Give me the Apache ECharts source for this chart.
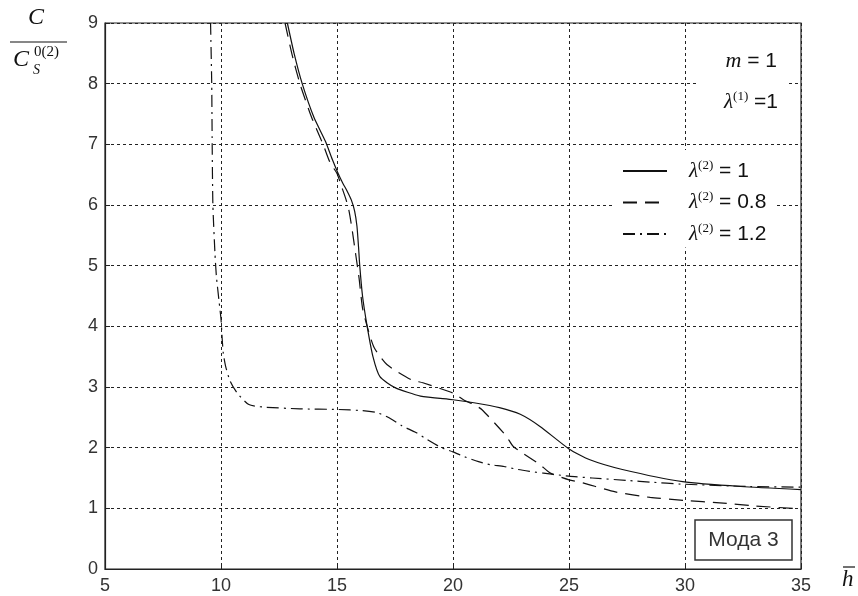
<!DOCTYPE html>
<html>
<head>
<meta charset="utf-8">
<script src="https://cdn.jsdelivr.net/npm/echarts@6/dist/echarts.min.js"></script>
<style>html,body{margin:0;padding:0;background:#fff}#c{width:858px;height:596px}</style>
</head>
<body>
<div id="c"></div>
<script>
// Data
const seriesNames = ['λ(2) = 1', 'λ(2) = 0.8', 'λ(2) = 1.2'];
const legendValues = ['1', '0.8', '1.2'];
const lambda1 = [
  [12.86, 9], [13.15, 8.5], [13.5, 8.0], [14.0, 7.45], [14.5, 7.05], [14.8, 6.75], [15.05, 6.52],
  [15.25, 6.36], [15.45, 6.22], [15.62, 6.08], [15.76, 5.9], [15.86, 5.65], [15.93, 5.3], [15.98, 5.0],
  [16.1, 4.5], [16.3, 4.0], [16.55, 3.5], [16.85, 3.17], [17.5, 2.99], [18.6, 2.85], [20.0, 2.79],
  [20.9, 2.74], [22.0, 2.66], [22.9, 2.55], [23.75, 2.35], [25.0, 1.98], [25.9, 1.8], [27.3, 1.64],
  [29.9, 1.44], [32.4, 1.36], [35, 1.31]
];
const lambda08 = [
  [12.76, 9], [13.05, 8.5], [13.4, 8.0], [13.9, 7.45], [14.4, 7.0], [14.7, 6.7], [15.0, 6.52],
  [15.2, 6.3], [15.38, 6.1], [15.52, 5.9], [15.65, 5.6], [15.8, 5.2], [15.95, 4.8], [16.1, 4.3],
  [16.3, 4.0], [16.6, 3.65], [17.15, 3.37], [18.2, 3.12], [18.7, 3.07], [20.0, 2.9], [20.45, 2.79],
  [20.9, 2.71], [21.24, 2.63], [22.3, 2.19], [22.6, 2.02], [23.75, 1.72], [24.2, 1.58], [25.0, 1.47],
  [25.6, 1.42], [27.0, 1.27], [28.5, 1.18], [30.0, 1.13], [31.5, 1.09], [33.0, 1.04], [35, 0.99]
];
const lambda12 = [
  [9.55, 9], [9.6, 8], [9.62, 7], [9.65, 6], [9.74, 5.2], [9.8, 4.83], [9.92, 4.4], [10.0, 4.12],
  [10.05, 3.8], [10.1, 3.55], [10.2, 3.34], [10.4, 3.09], [10.7, 2.9], [11.2, 2.71], [11.8, 2.67],
  [13.4, 2.64], [15.0, 2.63], [16.1, 2.61], [16.7, 2.58], [17.2, 2.5], [17.8, 2.36], [18.4, 2.25],
  [18.9, 2.13], [19.5, 2.0], [20.0, 1.93], [20.5, 1.85], [21.1, 1.77], [21.6, 1.72], [22.2, 1.69],
  [22.8, 1.64], [23.3, 1.61], [23.9, 1.58], [25.0, 1.53], [26.0, 1.5], [27.5, 1.46], [28.6, 1.43],
  [29.8, 1.4], [32.8, 1.36], [35, 1.35]
];

const chart = echarts.init(document.getElementById('c'), null, {renderer: 'canvas'});
const serif = 'Liberation Serif';
const sans = 'Liberation Sans';
const ink = '#111';

function mkSeries(name, data, dash) {
  return {
    name: name, type: 'line', data: data, showSymbol: false, symbol: 'none',
    smooth: 0.2, animation: false,
    itemStyle: {color: ink},
    lineStyle: {color: ink, width: 1.2, type: dash}
  };
}

chart.setOption({
  animation: false,
  backgroundColor: '#fff',
  grid: {left: 105, right: 57, top: 23, bottom: 27, show: true, borderColor: '#222', borderWidth: 1.2, backgroundColor: 'transparent'},
  xAxis: {
    type: 'value', min: 5, max: 35, interval: 5,
    axisLine: {show: true, lineStyle: {color: '#222', width: 1.2}},
    axisTick: {show: true, inside: true, length: 5, lineStyle: {color: '#222'}},
    axisLabel: {color: '#333', fontFamily: sans, fontSize: 18, margin: 8},
    splitLine: {show: true, lineStyle: {color: '#222', width: 1, type: [3, 3]}}
  },
  yAxis: {
    type: 'value', min: 0, max: 9, interval: 1,
    axisLine: {show: true, lineStyle: {color: '#222', width: 1.2}},
    axisTick: {show: true, inside: true, length: 5, lineStyle: {color: '#222'}},
    axisLabel: {color: '#333', fontFamily: sans, fontSize: 18, margin: 7},
    splitLine: {show: true, lineStyle: {color: '#222', width: 1, type: [3, 3]}}
  },
  legend: {
    orient: 'vertical', left: 612, top: 150, itemWidth: 44, itemHeight: 12, itemGap: 9,
    padding: [9, 9, 3, 10],
    backgroundColor: '#fff',
    itemStyle: {opacity: 0},
    data: seriesNames,
    formatter: function (name) {
      const i = seriesNames.indexOf(name);
      return '{l|λ}{s|(2)}{e| = ' + legendValues[i] + '}';
    },
    textStyle: {
      color: ink, fontFamily: serif,
      rich: {
        l: {fontFamily: serif, fontStyle: 'italic', fontSize: 21, padding: [0, 0, 0, 17], lineHeight: 24, color: ink},
        s: {fontFamily: serif, fontSize: 13, verticalAlign: 'top', lineHeight: 24, color: ink},
        e: {fontFamily: sans, fontSize: 21, lineHeight: 24, color: ink}
      }
    }
  },
  series: [
    mkSeries(seriesNames[0], lambda1, 'solid'),
    mkSeries(seriesNames[1], lambda08, [14, 8]),
    mkSeries(seriesNames[2], lambda12, [12, 5, 2, 5])
  ],
  graphic: [
    // y-axis label: C / C_S^{0(2)}
    {type: 'text', left: 28, top: 6, style: {text: 'C', font: 'italic 24px ' + serif, fill: ink}},
    {type: 'line', shape: {x1: 10, y1: 42, x2: 67, y2: 42}, style: {stroke: ink, lineWidth: 1.2}},
    {type: 'text', left: 13, top: 48, style: {text: 'C', font: 'italic 24px ' + serif, fill: ink}},
    {type: 'text', left: 34, top: 45, style: {text: '0(2)', font: '15px ' + serif, fill: ink}},
    {type: 'text', left: 33, top: 63, style: {text: 'S', font: 'italic 14px ' + serif, fill: ink}},
    // x-axis label: h with bar
    {type: 'text', left: 842, top: 568, style: {text: 'h', font: 'italic 23px ' + serif, fill: ink}},
    {type: 'line', shape: {x1: 843, y1: 567, x2: 855, y2: 567}, style: {stroke: ink, lineWidth: 1.2}},
    // parameter annotations (white backing hides the grid like the reference)
    {type: 'rect', z: 5, shape: {x: 697, y: 42, width: 91, height: 80}, style: {fill: '#fff'}},
    {type: 'text', z: 6, right: 81, top: 50, style: {text: '{i|m} = 1', font: '21px ' + sans, fill: ink,
      rich: {i: {fontFamily: serif, fontStyle: 'italic', fontSize: 22, fill: ink}}}},
    {type: 'text', z: 6, right: 80, top: 90, style: {
      text: '{l|λ}{s|(1)}{e| =1}', fill: ink,
      rich: {
        l: {fontFamily: serif, fontStyle: 'italic', fontSize: 21, lineHeight: 24, fill: ink},
        s: {fontFamily: serif, fontSize: 13, verticalAlign: 'top', lineHeight: 24, fill: ink},
        e: {fontFamily: sans, fontSize: 21, lineHeight: 24, fill: ink}
      }}},
    // Mode box
    {type: 'rect', z: 5, shape: {x: 695, y: 520, width: 97, height: 40}, style: {fill: '#fff', stroke: '#333', lineWidth: 1.5}},
    {type: 'text', z: 6, x: 743.5, y: 540, style: {text: 'Мода 3', font: '21px ' + sans, fill: '#333', textAlign: 'center', textVerticalAlign: 'middle'}}
  ]
});
</script>
</body>
</html>
